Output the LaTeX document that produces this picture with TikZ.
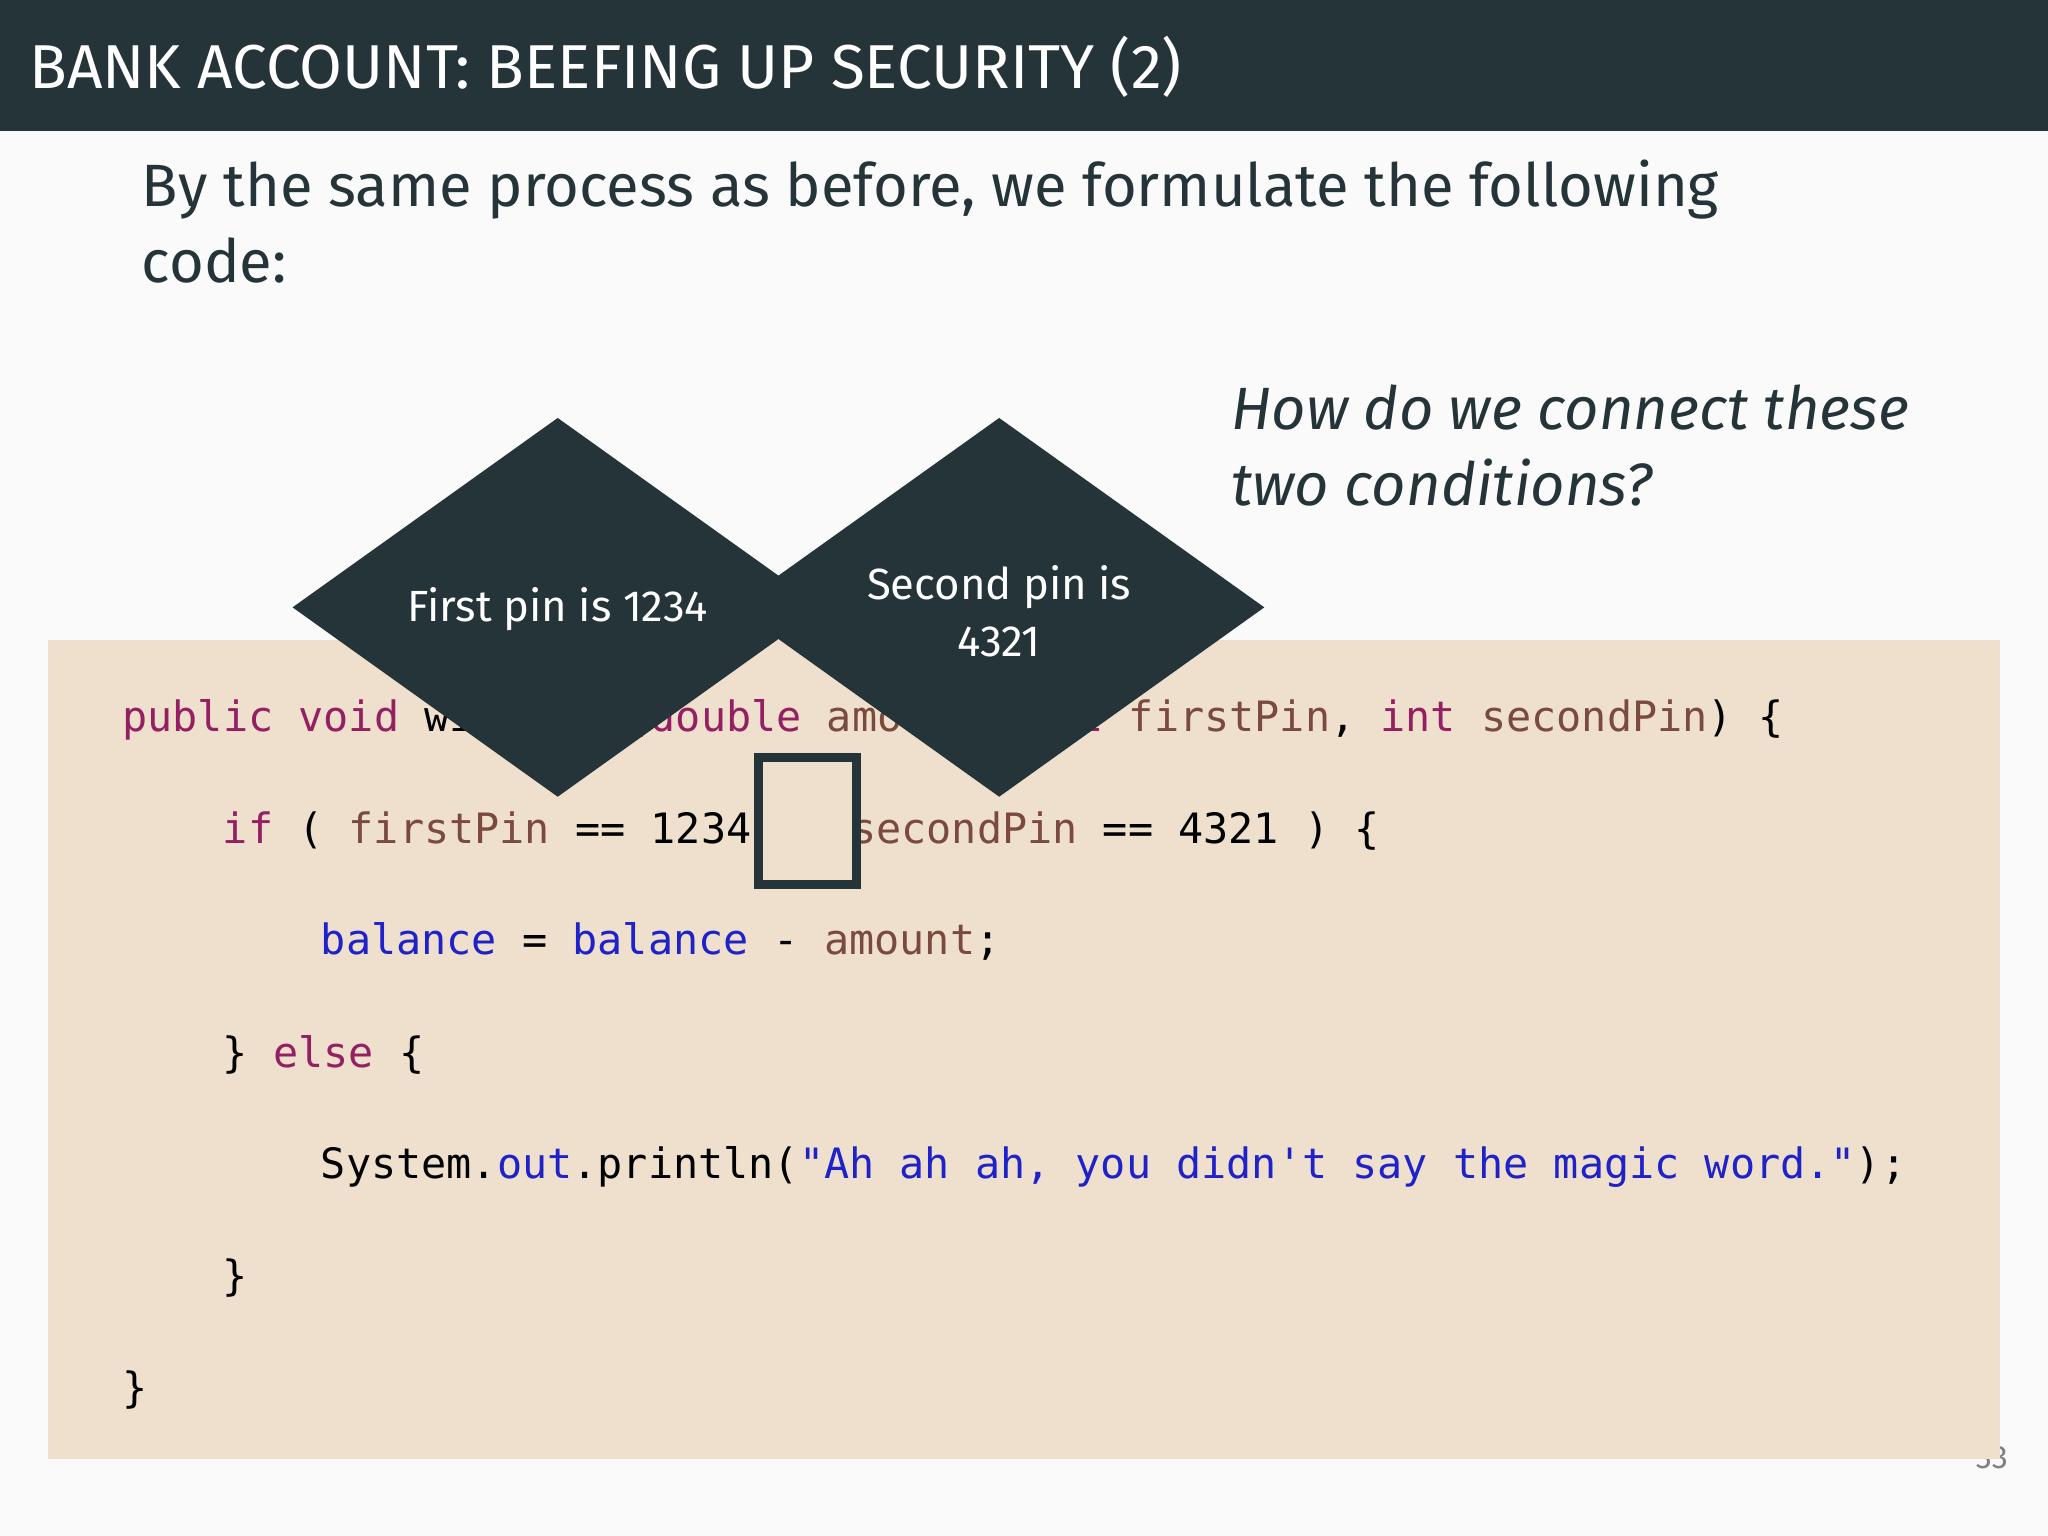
\documentclass[tikz,border=0pt]{standalone}
\usepackage{fontspec}
\setmainfont{Fira Sans}
\setmonofont{DejaVu Sans Mono}
\definecolor{dk}{HTML}{253439}
\definecolor{bgc}{HTML}{FAFAFA}
\definecolor{codebg}{HTML}{EEE0CC}
\definecolor{kw}{HTML}{941F63}
\definecolor{idc}{HTML}{7B4A3E}
\definecolor{bl}{HTML}{1F22C8}
\newcommand{\K}[1]{\textcolor{kw}{#1}}
\newcommand{\I}[1]{\textcolor{idc}{#1}}
\newcommand{\B}[1]{\textcolor{bl}{#1}}
\tikzset{
  px/.style={x=0.01cm,y=-0.01cm},
  codeline/.style={anchor=base west,inner sep=0,font=\fontsize{9.1}{11}\selectfont\ttfamily},
  dia/.style={fill=dk,draw=none},
  diatext/.style={text=white,align=center,font=\fontsize{9.5}{12.5}\selectfont},
}
\begin{document}
\begin{tikzpicture}[px]
\useasboundingbox (0,0) rectangle (1568,1176);
\fill[bgc] (0,0) rectangle (1568,1176);
\fill[dk] (0,0) rectangle (1568,100);
\node[anchor=base west,inner sep=0,text=white,font=\fontsize{13.5}{16}\selectfont] (title) at (22,68) {BANK ACCOUNT: BEEFING UP SECURITY (2)};
\node[anchor=base west,inner sep=0,text=dk,align=left,font=\fontsize{13}{16.5}\selectfont] (intro) at (108,216) {By the same process as before, we formulate the following\\code:};
\node[anchor=base west,inner sep=0,text=dk,align=left,font=\fontsize{13}{16.5}\selectfont\itshape] (q) at (942,387) {How do we connect these\\two conditions?};
\node[anchor=base,inner sep=0,text=gray,font=\fontsize{7}{8}\selectfont] (pg) at (1525,1124) {33};
\fill[codebg] (37,490) rectangle (1531,1117);
\node[codeline] (l1) at (93,560) {\K{public void} withdraw(\K{double} \I{amount}, \K{int} \I{firstPin}, \K{int} \I{secondPin}) \{};
\node[codeline] (l2a) at (170,646) {\K{if} ( \I{firstPin} == 1234};
\node[codeline] (l2b) at (651,646) {\I{secondPin} == 4321 ) \{};
\node[codeline] (l3) at (245,731) {\B{balance} = \B{balance} - \I{amount};};
\node[codeline] (l4) at (170,817) {\} \K{else} \{};
\node[codeline] (l5) at (245,902) {System.\B{out}.println(\B{"Ah ah ah, you didn't say the magic word."});};
\node[codeline] (l6) at (170,988) {\}};
\node[codeline] (l7) at (93,1074) {\}};
\draw[dk,line width=2pt] (581,580) rectangle (656,677);
\fill[dia] (427,320) -- (630,465) -- (427,610) -- (224,465) -- cycle;
\fill[dia] (765,320) -- (968,465) -- (765,610) -- (562,465) -- cycle;
\node[diatext] (d1) at (427,466) {First pin is 1234};
\node[diatext] (d2) at (765,468) {Second pin is\\4321};
\end{tikzpicture}
\end{document}
